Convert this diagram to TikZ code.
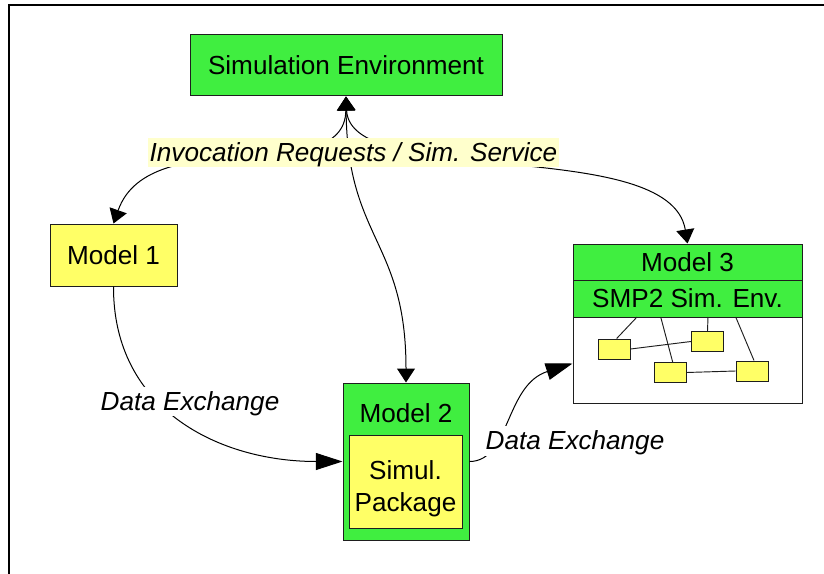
\documentclass[tikz,border=0pt]{standalone}
\usepackage{fontspec}
\setmainfont{Liberation Sans}
\usetikzlibrary{arrows.meta}
\definecolor{boxgreen}{RGB}{64,238,64}
\definecolor{boxyellow}{RGB}{255,255,102}
\definecolor{notebg}{RGB}{255,255,204}
\definecolor{edge}{RGB}{30,30,30}

\begin{document}
\begin{tikzpicture}[x=0.75pt,y=-0.75pt,
  every node/.style={font=\fontsize{19.6}{24.3}\selectfont},
  greenbox/.style={draw=edge, line width=0.75pt, fill=boxgreen, inner sep=0pt},
  yellowbox/.style={draw=edge, line width=0.75pt, fill=boxyellow, inner sep=0pt},
  plainbox/.style={draw=edge, line width=0.75pt, fill=white, inner sep=0pt},
  tagtext/.style={font=\fontsize{19.6}{24.3}\selectfont\itshape,
    text height=17.74pt, text depth=4.16pt, inner ysep=0pt, inner xsep=1.5pt},
  link/.style={line width=0.75pt, draw=black},
  wire/.style={line width=0.7pt, draw=edge},
  twotips/.style={arrows={Triangle[length=10.5pt,width=13.5pt]-Triangle[length=10.5pt,width=13.5pt]}},
  datatip/.style={-{Triangle[length=20pt,width=12.75pt]}}
]
\useasboundingbox (0,0) rectangle (824,574);

% outer frame (only the top and left edges fall inside the page)
\draw[line width=1.5pt] (824,5) -- (9,5) -- (9,574);

% main boxes
\node[greenbox, minimum width=234pt, minimum height=45.75pt] (env) at (346,65.5) {Simulation Environment};
\node[yellowbox, minimum width=95.25pt, minimum height=46.5pt] (m1) at (113.5,255) {Model 1};

\node[greenbox, minimum width=94.5pt, minimum height=117.75pt] (m2) at (406,461.5) {};
\node (m2t) at (406,412.8) {Model 2};
\node[yellowbox, minimum width=84.75pt, minimum height=69.75pt] (pkg) at (405.5,481.5) {};
\node[align=center] (pkgt) at (405.5,488.7) {Simul.\\Package};

% model 3 with its embedded environment
\node[plainbox, minimum width=171.75pt, minimum height=119.25pt] (m3) at (687.5,323.5) {};
\node[greenbox, minimum width=171.75pt, minimum height=27pt] (m3t) at (687.5,262) {Model 3};
\node[greenbox, minimum width=171.75pt, minimum height=27.75pt] (smp) at (687.5,298.5) {SMP2 Sim. Env.};

\node[yellowbox, minimum width=24pt, minimum height=15pt] (s1) at (614,349) {};
\node[yellowbox, minimum width=24pt, minimum height=15pt] (s2) at (707.5,341.5) {};
\node[yellowbox, minimum width=24pt, minimum height=15pt] (s3) at (670,372.5) {};
\node[yellowbox, minimum width=24pt, minimum height=15pt] (s4) at (752,371) {};

\coordinate (k1) at (637,317);
\coordinate (k2) at (660.7,317);
\coordinate (k3) at (708,317);
\coordinate (k4) at (735.7,317);

\draw[wire] (k1) -- ([xshift=2pt]s1.north);
\draw[wire] (k2) -- ([xshift=2pt]s3.north);
\draw[wire] (k3) -- (s2.north);
\draw[wire] (k4) -- ([xshift=1.5pt]s4.north);
\draw[wire] (s1.east) -- (s2.west);
\draw[wire] (s3.east) -- (s4.west);

% invocation requests between environment and models
\draw[link, twotips] (env.south) .. controls (345,190) and (150,120) .. (m1.north);
\draw[link, twotips] (env.south) .. controls (347,240) and (406,240) .. (m2.north);
\draw[link, twotips] (env.south) .. controls (350,190) and (670,135) .. (m3t.north);
\node[tagtext, fill=notebg] (inv) at (353.5,152.6) {Invocation Requests / Sim. Service};

% data exchange between models
\coordinate (m3in) at ([yshift=30pt]m3.south west);
\draw[link, datatip] (m1.south) .. controls (113,410) and (220,461.5) .. (m2.west);
\draw[link, datatip] (m2.east) .. controls (510,461.5) and (505,385) .. (m3in);
\node[tagtext, fill=white] (dx1) at (190,401.6) {Data Exchange};
\node[tagtext, fill=white] (dx2) at (575,440.9) {Data Exchange};
\end{tikzpicture}
\end{document}
